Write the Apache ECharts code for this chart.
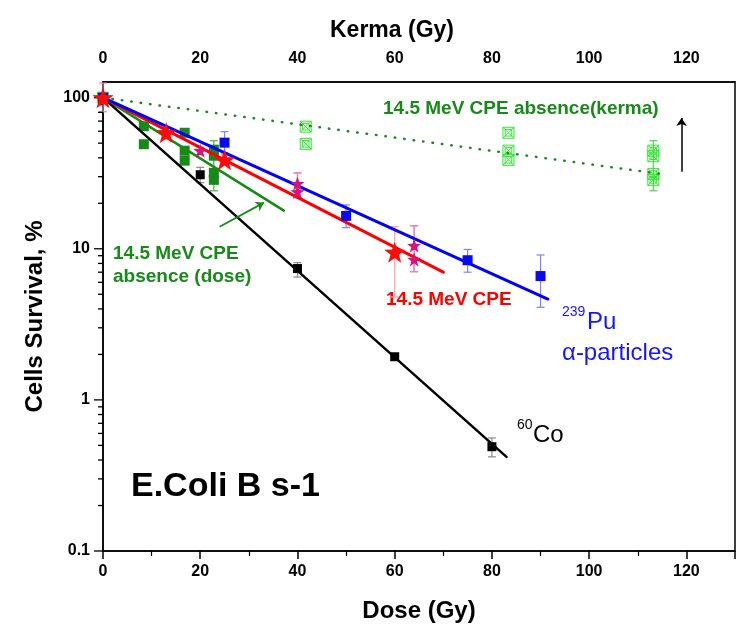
<!DOCTYPE html>
<html><head><meta charset="utf-8">
<script src="https://cdn.jsdelivr.net/npm/echarts@6/dist/echarts.min.js"></script>
<style>html,body{margin:0;padding:0;background:#fff}#c{width:739px;height:631px}</style>
</head><body><div id="c"></div>
<script>
// ---------- axis ticks ----------
const doseTicks = [0, 20, 40, 60, 80, 100, 120];
const survMajorTicks = [0.1, 1, 10, 100];
const survMinorTicks = [0.2,0.3,0.4,0.5,0.6,0.7,0.8,0.9, 2,3,4,5,6,7,8,9, 20,30,40,50,60,70,80,90];

// ---------- 60Co (black) ----------
const coDose  = [0, 20, 40, 60, 80];
const coSurv  = [100, 30.9, 7.4, 1.93, 0.49];
const coErrLo = [null, 27.4, 6.5, null, 0.42];
const coErrHi = [null, 34.6, 8.1, null, 0.56];
const coFitDose = [0, 83];
const coFitSurv = [100, 0.42];

// ---------- 239Pu alpha (blue) ----------
const puDose  = [0, 25, 50, 75, 90];
const puSurv  = [100, 50.4, 16.5, 8.4, 6.6];
const puErrLo = [null, 43, 13.8, 7.0, 4.1];
const puErrHi = [null, 59.6, 19.5, 9.9, 9.1];
const puFitDose = [0, 91.5];
const puFitSurv = [100, 4.65];

// ---------- 14.5 MeV CPE (red stars) ----------
const cpeDose  = [0, 13, 25, 60];
const cpeSurv  = [100, 58.6, 38.8, 9.5];
const cpeErrLo = [null, 53.5, 36, 4.8];
const cpeErrHi = [null, 63.5, 42, 14];
const cpeFitDose = [0, 70];
const cpeFitSurv = [100, 7.0];

// ---------- 14.5 MeV CPE (magenta stars) ----------
const cpe2Dose  = [0, 20, 40, 40, 64, 64];
const cpe2Surv  = [100, 44.6, 27, 23.8, 10.5, 8.5];
const cpe2ErrLo = [80.7, 42, 21.8, 21.8, 7.05, 7.05];
const cpe2ErrHi = [125, 47, 31.8, 31.8, 14.2, 14.2];

// ---------- 14.5 MeV CPE absence, dose (dark green) ----------
const absDose = [0, 8.4, 8.4, 16.8, 16.8, 16.8, 22.8, 22.8, 22.8, 22.8];
const absSurv = [100, 64.7, 49.2, 58.6, 44.6, 38.3, 45.3, 41.3, 31.8, 28.6];
const absErrX  = [22.8];
const absErrLo = [24.2];
const absErrHi = [51.9];
const absFitDose = [0, 37.2];
const absFitSurv = [100, 17.9];

// ---------- 14.5 MeV CPE absence, kerma (light green, top axis) ----------
const kermaK    = [0, 41.7, 41.7, 83.4, 83.4, 83.4, 113.2, 113.2, 113.2, 113.2];
const kermaSurv = [100, 64.3, 49.5, 58.6, 44.6, 38.8, 44.6, 41.0, 31.2, 28.6];
const kermaErrX  = [113.2];
const kermaErrLo = [24.2];
const kermaErrHi = [51.9];
const kermaFitK    = [0, 115];
const kermaFitSurv = [100, 31.2];

// ---------- arrows ----------
const greenArrowFrom = [24, 14.0];
const greenArrowTo   = [33.1, 20.2];
const blackArrowFrom = [119, 32.3];
const blackArrowTo   = [119, 73.3];

// ================================================================
const F = '"Liberation Sans", Arial, sans-serif';
const pairs = (xs, ys) => xs.map((x, i) => [x, ys[i]]);
function errs(xs, lo, hi) {
  const r = [];
  xs.forEach((x, i) => { if (lo[i] != null) r.push([x, lo[i], hi[i]]); });
  return r;
}
function errSeries(data, color, xi) {
  return {
    type: 'custom', xAxisIndex: xi, yAxisIndex: 0, data, z: 1, silent: true,
    encode: {x: 0, y: [1, 2]},
    renderItem(params, api) {
      const x = api.value(0);
      const lo = api.coord([x, api.value(1)]);
      const hi = api.coord([x, api.value(2)]);
      const w = 4;
      const st = {stroke: color, lineWidth: 1.2};
      return {type: 'group', children: [
        {type: 'line', shape: {x1: lo[0], y1: lo[1], x2: hi[0], y2: hi[1]}, style: st},
        {type: 'line', shape: {x1: lo[0] - w, y1: lo[1], x2: lo[0] + w, y2: lo[1]}, style: st},
        {type: 'line', shape: {x1: hi[0] - w, y1: hi[1], x2: hi[0] + w, y2: hi[1]}, style: st}
      ]};
    }
  };
}
function fitSeries(xs, ys, color, xi, width, type) {
  return {type: 'line', xAxisIndex: xi, yAxisIndex: 0, data: pairs(xs, ys), symbol: 'none', z: 4,
    silent: true, lineStyle: {color, width, type: type || 'solid', cap: 'round', opacity: 1}};
}
const STAR = 'path://M0,-10L2.35,-3.24L9.51,-3.09L3.8,1.24L5.88,8.09L0,4L-5.88,8.09L-3.8,1.24L-9.51,-3.09L-2.35,-3.24Z';
const XBOX = 'path://M0,0H10V10H0Z M2,2H8V8H2Z M0,0L10,10 M10,0L0,10';

const yTickData = survMajorTicks.map(v => [0, v, 1]).concat(survMinorTicks.map(v => [0, v, 0]));

const boldLbl = {fontFamily: F, fontWeight: 'bold', fontSize: 16, color: '#000'};
const nameStyle = {fontFamily: F, fontWeight: 'bold', fontSize: 24, color: '#000'};

function scatter(xi, xs, ys, symbol, size, z, itemStyle) {
  return {type: 'scatter', xAxisIndex: xi, yAxisIndex: 0, data: pairs(xs, ys), symbol, symbolSize: size, z,
    itemStyle: Object.assign({opacity: 1}, itemStyle), emphasis: {disabled: true}};
}

const option = {
  backgroundColor: '#fff',
  animation: false,
  grid: {left: 103, top: 82, right: 4, bottom: 80, show: true, borderColor: '#000', borderWidth: 1.5, backgroundColor: 'transparent'},
  xAxis: [
    {type: 'value', position: 'bottom', min: 0, max: 130, interval: 20,
     name: 'Dose (Gy)', nameLocation: 'middle', nameGap: 48, nameTextStyle: nameStyle,
     axisLine: {show: true, onZero: false, lineStyle: {color: '#000', width: 1.5}},
     axisTick: {show: true, length: 8, lineStyle: {color: '#000', width: 1.5}},
     minorTick: {show: true, splitNumber: 2, length: 5, lineStyle: {color: '#000', width: 1.2}},
     axisLabel: Object.assign({margin: 13, formatter: v => doseTicks.includes(v) ? String(v) : ''}, boldLbl),
     splitLine: {show: false}},
    {type: 'value', position: 'top', min: 0, max: 130, interval: 20,
     axisLine: {show: true, onZero: false, lineStyle: {color: '#000', width: 1.5}},
     axisTick: {show: false},
     axisLabel: Object.assign({margin: 15, formatter: v => doseTicks.includes(v) ? String(v) : ''}, boldLbl),
     splitLine: {show: false}}
  ],
  yAxis: [{type: 'log', logBase: 10, min: 0.1, max: 127,
    name: 'Cells Survival, %', nameLocation: 'middle', nameGap: 56, nameTextStyle: nameStyle,
    axisLine: {show: true, onZero: false, lineStyle: {color: '#000', width: 1.5}},
    axisTick: {show: false},
    axisLabel: Object.assign({margin: 13, formatter: v => {
      const p = parseFloat(Number(v).toPrecision(3));
      return survMajorTicks.includes(p) ? String(p) : '';
    }}, boldLbl),
    splitLine: {show: false}}],
  series: [
    // y-axis ticks (major & minor) drawn through the log scale
    {type: 'custom', xAxisIndex: 0, yAxisIndex: 0, data: yTickData, silent: true, z: 5, clip: false,
     encode: {x: 0, y: 1},
     renderItem(params, api) {
       const p = api.coord([api.value(0), api.value(1)]);
       const len = api.value(2) ? 9 : 5;
       return {type: 'line', shape: {x1: p[0] - len, y1: p[1], x2: p[0], y2: p[1]},
         style: {stroke: '#000', lineWidth: 1.3}};
     }},
    // error bars
    errSeries(errs(coDose, coErrLo, coErrHi), '#8a8a8a', 0),
    errSeries(errs(puDose, puErrLo, puErrHi), '#8080ff', 0),
    errSeries(errs(cpeDose, cpeErrLo, cpeErrHi), '#ffa0a0', 0),
    errSeries(errs(cpe2Dose, cpe2ErrLo, cpe2ErrHi), '#f080b8', 0),
    errSeries(errs(absErrX, absErrLo, absErrHi), '#4caf4c', 0),
    errSeries(errs(kermaErrX, kermaErrLo, kermaErrHi), '#44dd44', 1),
    // fitted lines
    fitSeries(kermaFitK, kermaFitSurv, '#178a17', 1, 2.5, [0.5, 9]),
    fitSeries(absFitDose, absFitSurv, '#178a17', 0, 2.5),
    fitSeries(coFitDose, coFitSurv, '#000', 0, 2.5),
    fitSeries(cpeFitDose, cpeFitSurv, '#ff0000', 0, 3),
    fitSeries(puFitDose, puFitSurv, '#0000ff', 0, 3),
    // points
    scatter(1, kermaK, kermaSurv, XBOX, 11, 3, {color: 'rgba(0,0,0,0)', borderColor: '#33e633', borderWidth: 1}),
    scatter(0, absDose, absSurv, 'rect', 10, 3, {color: '#178a17'}),
    scatter(0, coDose, coSurv, 'rect', 9, 6, {color: '#000'}),
    scatter(0, puDose, puSurv, 'rect', 10, 6, {color: '#0a0af0'}),
    scatter(0, cpe2Dose, cpe2Surv, STAR, 14, 6, {color: '#d4147c'}),
    scatter(0, cpeDose, cpeSurv, STAR, 21, 6, {color: '#ff0a0a'}),
    // arrows
    {type: 'lines', coordinateSystem: 'cartesian2d', xAxisIndex: 0, yAxisIndex: 0, z: 7, silent: true,
     symbol: ['none', 'arrow'], symbolSize: 8,
     data: [{coords: [greenArrowFrom, greenArrowTo], lineStyle: {color: '#178a17', width: 1.8, opacity: 1}},
            {coords: [blackArrowFrom, blackArrowTo], lineStyle: {color: '#000', width: 1.5, opacity: 1}}]}
  ],
  graphic: [
    {type: 'text', style: {x: 392, y: 31, align: 'center', verticalAlign: 'middle', text: 'Kerma (Gy)', font: 'bold 23px ' + F, fill: '#000'}},
    {type: 'text', left: 383, top: 99, style: {text: '14.5 MeV CPE absence(kerma)', font: 'bold 19px ' + F, fill: '#178a17'}},
    {type: 'text', left: 386, top: 290, style: {text: '14.5 MeV CPE', font: 'bold 19px ' + F, fill: '#ff0000'}},
    {type: 'text', left: 113, top: 244, style: {text: '14.5 MeV CPE', font: 'bold 19px ' + F, fill: '#178a17'}},
    {type: 'text', left: 113, top: 267, style: {text: 'absence (dose)', font: 'bold 19px ' + F, fill: '#178a17'}},
    {type: 'text', left: 131, top: 470, style: {text: 'E.Coli B s-1', font: 'bold 34px ' + F, fill: '#000'}},
    {type: 'text', left: 562, top: 305, style: {text: '239', font: '14px ' + F, fill: '#1414ff'}},
    {type: 'text', left: 587, top: 310, style: {text: 'Pu', font: '24px ' + F, fill: '#1414ff'}},
    {type: 'text', left: 562, top: 341, style: {text: 'α-particles', font: '24px ' + F, fill: '#1414ff'}},
    {type: 'text', left: 517, top: 418, style: {text: '60', font: '14px ' + F, fill: '#000'}},
    {type: 'text', left: 533, top: 423, style: {text: 'Co', font: '24px ' + F, fill: '#000'}}
  ]
};
const chart = echarts.init(document.getElementById('c'));
chart.setOption(option);
</script>
</body></html>
